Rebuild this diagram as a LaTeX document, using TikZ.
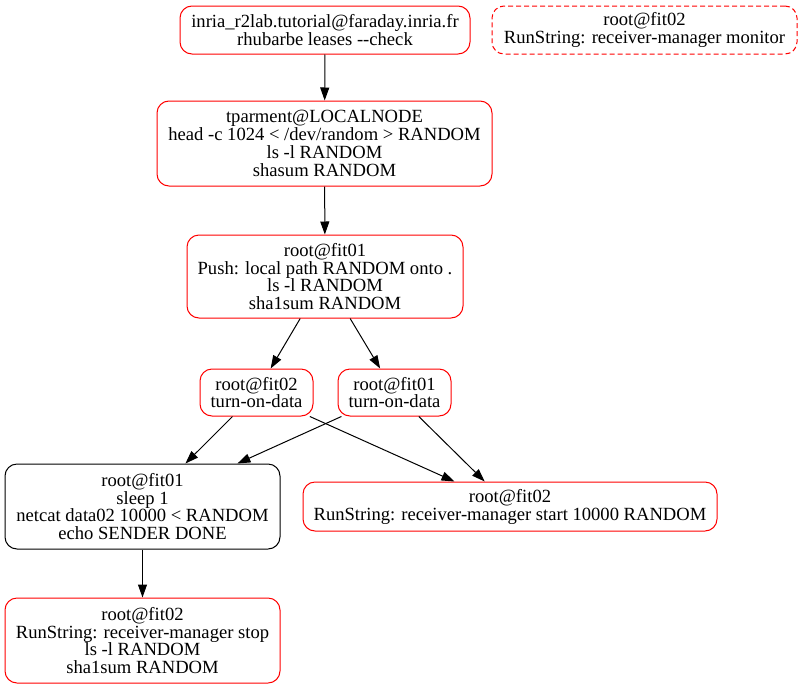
\documentclass[tikz,border=0pt]{standalone}
\usepackage{fontspec}
\setmainfont{Liberation Serif}
\usetikzlibrary{arrows.meta}
\begin{document}
\begin{tikzpicture}[x=1pt,y=-1pt,
  box/.style={draw=red,line width=1pt,rounded corners=12pt,inner sep=0pt,align=center,
    font=\fontsize{18.6}{17.9}\selectfont},
  blackbox/.style={box,draw=black},
  dashbox/.style={box,dash pattern=on 5pt off 3pt},
  conn/.style={line width=1pt,-{Triangle[length=13pt,width=9pt]}}]
\useasboundingbox (0,0) rectangle (802,688);
\node[box,minimum width=290pt,minimum height=48pt] (lease) at (325,30)
  {inria\_r2lab.tutorial@faraday.inria.fr\\rhubarbe leases {-}{-}check};
\node[dashbox,minimum width=305pt,minimum height=48pt] (mon) at (644.5,30)
  {root@fit02\\RunString: receiver-manager monitor};
\node[box,minimum width=335pt,minimum height=85pt] (local) at (324.5,143.5)
  {tparment@LOCALNODE\\head -c 1024 < /dev/random > RANDOM\\ls -l RANDOM\\shasum RANDOM};
\node[box,minimum width=276pt,minimum height=83pt] (push) at (325,276.5)
  {root@fit01\\Push: local path RANDOM onto .\\ls -l RANDOM\\sha1sum RANDOM};
\node[box,minimum width=113pt,minimum height=47pt] (ton2) at (256.5,392.5)
  {root@fit02\\turn-on-data};
\node[box,minimum width=113pt,minimum height=47pt] (ton1) at (394.5,392.5)
  {root@fit01\\turn-on-data};
\node[blackbox,minimum width=275pt,minimum height=85pt] (send) at (142.5,506.5)
  {root@fit01\\sleep 1\\netcat data02 10000 < RANDOM\\echo SENDER DONE};
\node[box,minimum width=414pt,minimum height=49pt] (start) at (510,506.5)
  {root@fit02\\RunString: receiver-manager start 10000 RANDOM};
\node[box,minimum width=275pt,minimum height=85pt] (stop) at (142.5,640.5)
  {root@fit02\\RunString: receiver-manager stop\\ls -l RANDOM\\sha1sum RANDOM};
\draw[conn] (lease) -- (local);
\draw[conn] (local) -- (push);
\draw[conn] (push) -- (ton2);
\draw[conn] (push) -- (ton1);
\draw[conn] (ton2) -- (send);
\draw[conn] (ton2) -- (start);
\draw[conn] (ton1) -- (send);
\draw[conn] (ton1) -- (start);
\draw[conn] (send) -- (stop);
\end{tikzpicture}
\end{document}
